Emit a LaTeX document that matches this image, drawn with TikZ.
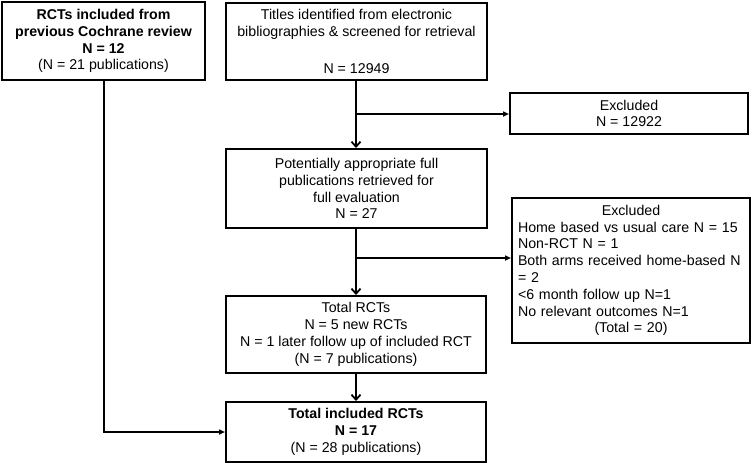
\documentclass[tikz,border=0pt]{standalone}
\usepackage{fontspec}
\setmainfont{Liberation Sans}
\usetikzlibrary{arrows.meta, positioning}

\begin{document}
\begin{tikzpicture}[x=1pt, y=-1pt,
  box/.style={draw, line width=2pt, align=center, inner sep=0pt,
              font=\fontsize{14.2}{16.8}\selectfont},
  down/.style={-{Straight Barb[length=5pt, width=9pt, line width=1.8pt]}, line width=2pt},
  side/.style={-{Triangle[length=6pt, width=5pt]}, line width=2pt}]
\useasboundingbox (0,0) rectangle (752,464);

% Boxes
\node[box, minimum width=203pt, minimum height=78pt] (coch) at (103.5, 41)
  {\textbf{RCTs included from}\\\textbf{previous Cochrane review}\\\textbf{N = 12}\\(N = 21 publications)};
\node[box, minimum width=261pt, minimum height=77pt] (titles) at (356.5, 41.5)
  {Titles identified from electronic\\bibliographies \& screened for retrieval\\[20pt]N = 12949};
\node[box, minimum width=238pt, minimum height=41pt] (excl1) at (629, 113.5)
  {Excluded\\N = 12922};
\node[box, minimum width=261pt, minimum height=79pt] (full) at (356.5, 188.5)
  {Potentially appropriate full\\publications retrieved for\\full evaluation\\N = 27};
\node[box, minimum width=238pt, minimum height=145pt, text width=226pt, align=left] (excl2) at (631, 270.5)
  {\makebox[\linewidth][c]{Excluded}\\Home based vs usual care N = 15\\Non-RCT N = 1\\Both arms received home-based N\\= 2\\<6 month follow up N=1\\No relevant outcomes N=1\\\makebox[\linewidth][c]{(Total = 20)}};
\node[box, minimum width=260pt, minimum height=77pt] (total) at (356, 334.5)
  {Total RCTs\\N = 5 new RCTs\\N = 1 later follow up of included RCT\\(N = 7 publications)};
\node[box, minimum width=260pt, minimum height=60pt] (incl) at (356, 432)
  {\textbf{Total included RCTs}\\\textbf{N = 17}\\(N = 28 publications)};

% Branch points
\coordinate (b1) at (356, 114);
\coordinate (b2) at (356, 258);

% Connectors
\draw[down] (titles.south -| b1) -- (full.north -| b1);
\draw[side] (b1) -- (b1 -| excl1.west);
\draw[down] (full.south -| b2) -- (total.north -| b2);
\draw[side] (b2) -- (b2 -| excl2.west);
\draw[down] (total.south -| b2) -- (incl.north -| b2);
\draw[side] (coch.south) |- (incl.west);

\end{tikzpicture}
\end{document}
